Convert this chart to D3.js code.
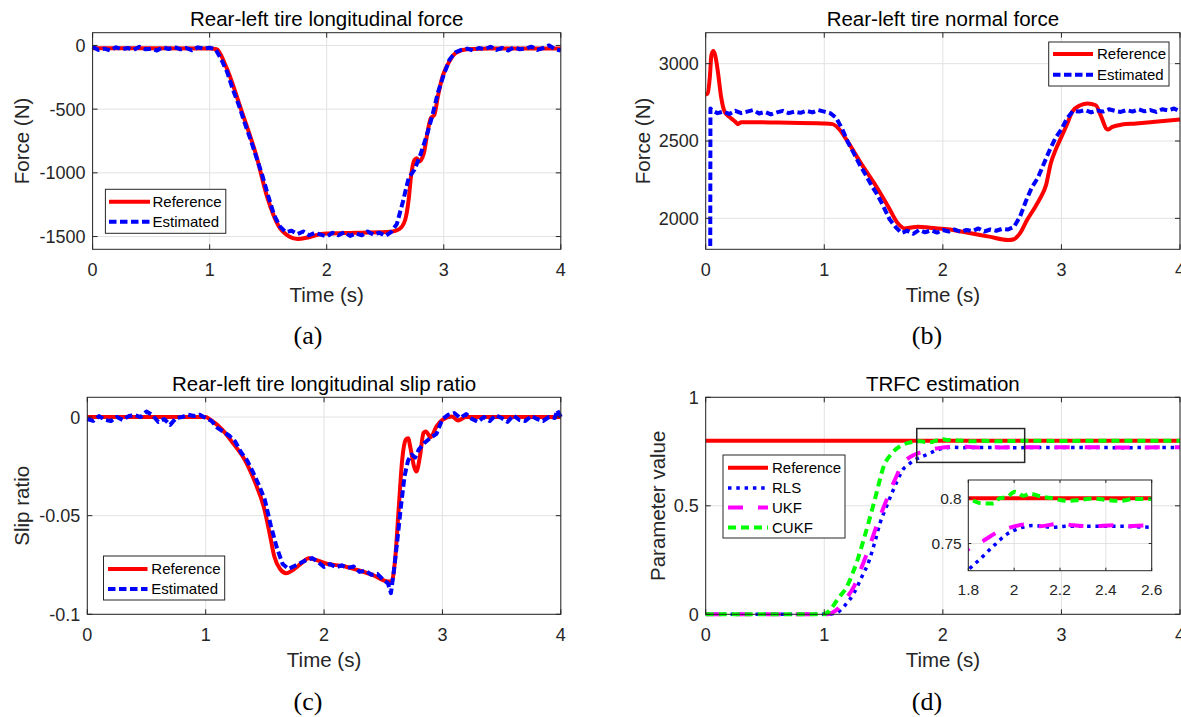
<!DOCTYPE html>
<html>
<head>
<meta charset="utf-8">
<script src="https://cdn.jsdelivr.net/npm/d3@7"></script>
<style>
  html, body { margin: 0; padding: 0; background: #ffffff; }
  svg { display: block; }
</style>
</head>
<body>
<svg id="fig" width="1181" height="717"></svg>
<script>
// ---------- shared time axis ----------
const timeTicks = [0, 1, 2, 3, 4];
const timeTickLabels = ["0", "1", "2", "3", "4"];

// ---------- (a) rear-left tire longitudinal force [t (s), N] ----------
const fxTicks = [-1500, -1000, -500, 0];
const fxTickLabels = ["-1500", "-1000", "-500", "0"];
const fxReference = [
  [0, -22], [1.0, -24], [1.06, -30], [1.14, -165], [1.27, -505], [1.40, -870], [1.49, -1185],
  [1.59, -1420], [1.68, -1500], [1.75, -1520], [1.85, -1505], [1.97, -1478], [2.26, -1470],
  [2.55, -1462], [2.62, -1442], [2.67, -1370], [2.70, -1212], [2.72, -1030], [2.75, -898],
  [2.77, -885], [2.79, -911], [2.83, -845], [2.86, -688], [2.89, -570], [2.92, -545],
  [2.95, -400], [2.99, -243], [3.04, -139], [3.10, -60], [3.20, -29], [3.40, -24], [4.0, -24]
];
const fxEstimated = [
  [0, -10], [0.05, -35], [0.1, -25], [0.15, -40], [0.2, -15], [0.25, -30], [0.3, -20], [0.35, -35],
  [0.4, -10], [0.45, -30], [0.5, -25], [0.55, -40], [0.6, -15], [0.65, -28], [0.7, -12], [0.75, -30],
  [0.8, -20], [0.85, -38], [0.9, -15], [0.95, -25], [1.0, -18], [1.05, -30], [1.1, -110], [1.15, -210],
  [1.2, -350], [1.25, -470], [1.3, -610], [1.35, -740], [1.4, -880], [1.45, -1020], [1.5, -1180],
  [1.55, -1330], [1.6, -1420], [1.65, -1465], [1.7, -1455], [1.75, -1480], [1.8, -1460], [1.85, -1490],
  [1.9, -1470], [1.95, -1485], [2.0, -1500], [2.05, -1470], [2.1, -1490], [2.15, -1465], [2.2, -1495],
  [2.25, -1475], [2.3, -1490], [2.35, -1460], [2.4, -1485], [2.45, -1470], [2.5, -1495], [2.55, -1465],
  [2.6, -1400], [2.65, -1230], [2.7, -1040], [2.75, -975], [2.8, -860], [2.85, -720], [2.9, -560],
  [2.95, -370], [3.0, -230], [3.05, -110], [3.1, -55], [3.15, -35], [3.2, -25], [3.25, -40], [3.3, -20],
  [3.35, -30], [3.4, -10], [3.45, -35], [3.5, -20], [3.55, -40], [3.6, -15], [3.65, -30], [3.7, -25],
  [3.75, -10], [3.8, -35], [3.85, -20], [3.9, 0], [3.95, -30], [4.0, -40]
];

// ---------- (b) rear-left tire normal force [t (s), N] ----------
const fzTicks = [2000, 2500, 3000];
const fzTickLabels = ["2000", "2500", "3000"];
const fzReference = [
  [0.0, 2800], [0.016, 2806], [0.035, 2914], [0.048, 3054], [0.064, 3082], [0.08, 3054],
  [0.105, 2935], [0.13, 2785], [0.16, 2688], [0.2, 2656], [0.25, 2624], [0.27, 2609], [0.3, 2622],
  [0.61, 2619], [0.995, 2613], [1.07, 2609], [1.12, 2581], [1.19, 2505], [1.31, 2355], [1.44, 2204],
  [1.54, 2075], [1.62, 1968], [1.68, 1935], [1.79, 1946], [1.89, 1940], [2.04, 1929], [2.2, 1908],
  [2.39, 1882], [2.55, 1860], [2.6, 1865], [2.65, 1903], [2.71, 1989], [2.78, 2075], [2.82, 2129],
  [2.87, 2215], [2.91, 2355], [2.95, 2441], [3.0, 2527], [3.05, 2613], [3.09, 2688], [3.16, 2731],
  [3.22, 2742], [3.29, 2731], [3.33, 2667], [3.39, 2574], [3.43, 2591], [3.51, 2606], [3.63, 2613],
  [3.79, 2624], [4.0, 2639]
];
const fzEstimated = [
  [0, 0], [0.035, 0], [0.04, 2710], [0.05, 2700], [0.1, 2680], [0.15, 2690], [0.2, 2675], [0.25, 2695],
  [0.3, 2680], [0.35, 2690], [0.4, 2700], [0.45, 2678], [0.5, 2688], [0.55, 2672], [0.6, 2685],
  [0.65, 2695], [0.7, 2680], [0.75, 2690], [0.8, 2682], [0.85, 2695], [0.9, 2685], [0.95, 2700],
  [1.0, 2690], [1.05, 2680], [1.1, 2650], [1.15, 2580], [1.2, 2490], [1.25, 2420], [1.3, 2345],
  [1.35, 2280], [1.4, 2210], [1.45, 2150], [1.5, 2075], [1.55, 1995], [1.6, 1945], [1.65, 1905],
  [1.7, 1920], [1.75, 1900], [1.8, 1925], [1.85, 1910], [1.9, 1922], [1.95, 1908], [2.0, 1925],
  [2.05, 1915], [2.1, 1928], [2.15, 1912], [2.2, 1925], [2.25, 1918], [2.3, 1935], [2.35, 1915],
  [2.4, 1928], [2.45, 1920], [2.5, 1932], [2.55, 1928], [2.6, 1945], [2.65, 2010], [2.7, 2110],
  [2.75, 2200], [2.8, 2260], [2.85, 2350], [2.9, 2440], [2.95, 2520], [3.0, 2575], [3.05, 2650],
  [3.1, 2695], [3.15, 2690], [3.2, 2700], [3.25, 2685], [3.3, 2698], [3.35, 2690], [3.4, 2705],
  [3.45, 2695], [3.5, 2688], [3.55, 2700], [3.6, 2690], [3.65, 2705], [3.7, 2692], [3.75, 2700],
  [3.8, 2688], [3.85, 2705], [3.9, 2698], [3.95, 2710], [4.0, 2690]
];

// ---------- (c) rear-left tire longitudinal slip ratio [t (s), -] ----------
const slipTicks = [-0.1, -0.05, 0];
const slipTickLabels = ["-0.1", "-0.05", "0"];
const slipReference = [
  [0, 0], [1.0, 0], [1.04, -0.0014], [1.14, -0.0064], [1.23, -0.0132], [1.33, -0.0217],
  [1.42, -0.0335], [1.49, -0.0453], [1.54, -0.0589], [1.58, -0.0707], [1.63, -0.0772],
  [1.68, -0.0792], [1.73, -0.0778], [1.81, -0.0741], [1.87, -0.0716], [1.93, -0.0724],
  [2.03, -0.0745], [2.16, -0.0755], [2.28, -0.0775], [2.41, -0.080], [2.54, -0.0834],
  [2.57, -0.0834], [2.60, -0.0724], [2.63, -0.047], [2.66, -0.0217], [2.69, -0.0115],
  [2.71, -0.0107], [2.73, -0.0157], [2.76, -0.025], [2.78, -0.0276], [2.81, -0.020],
  [2.84, -0.0081], [2.86, -0.0073], [2.90, -0.0102], [2.95, -0.0047], [3.0, -0.0014],
  [3.08, 0.0003], [3.13, -0.0017], [3.2, 0], [4.0, 0]
];
const slipEstimated = [
  [0, -0.001], [0.05, -0.002], [0.1, 0.0005], [0.15, -0.0015], [0.2, -0.002], [0.25, 0.0],
  [0.3, -0.0015], [0.35, 0.0005], [0.4, 0.001], [0.45, 0.0], [0.5, 0.0028], [0.55, 0.001],
  [0.6, -0.0025], [0.65, -0.001], [0.7, -0.004], [0.75, -0.0005], [0.8, 0.0], [0.85, 0.0012],
  [0.9, 0.0005], [0.95, 0.0012], [1.0, -0.0005], [1.05, -0.002], [1.1, -0.0055], [1.15, -0.0075],
  [1.2, -0.0095], [1.25, -0.0125], [1.3, -0.018], [1.35, -0.022], [1.4, -0.028], [1.45, -0.0345],
  [1.5, -0.042], [1.55, -0.055], [1.6, -0.066], [1.65, -0.0745], [1.7, -0.077], [1.75, -0.0755],
  [1.8, -0.074], [1.85, -0.0725], [1.9, -0.0715], [1.95, -0.0735], [2.0, -0.076], [2.05, -0.0745],
  [2.1, -0.0762], [2.15, -0.0752], [2.2, -0.0765], [2.25, -0.0758], [2.3, -0.0785], [2.35, -0.0778],
  [2.4, -0.080], [2.45, -0.0795], [2.5, -0.0825], [2.54, -0.0843], [2.565, -0.0893], [2.59, -0.078],
  [2.62, -0.062], [2.65, -0.045], [2.68, -0.030], [2.71, -0.022], [2.74, -0.019], [2.77, -0.0205],
  [2.8, -0.0165], [2.85, -0.013], [2.9, -0.0105], [2.95, -0.0085], [3.0, -0.001], [3.05, 0.0012],
  [3.1, 0.002], [3.15, -0.0005], [3.2, 0.0015], [3.25, -0.001], [3.3, -0.0025], [3.35, 0.0],
  [3.4, -0.002], [3.45, 0.001], [3.5, -0.0005], [3.55, -0.0025], [3.6, 0.0008], [3.65, -0.0015],
  [3.7, -0.002], [3.75, 0.0005], [3.8, -0.001], [3.85, -0.002], [3.9, 0.0], [3.95, -0.0005],
  [3.97, 0.0035], [4.0, 0.0]
];

// ---------- (d) tire-road friction coefficient estimates [t (s), -] ----------
const muTicks = [0, 0.5, 1];
const muTickLabels = ["0", "0.5", "1"];
const muReference = [[0, 0.8], [4, 0.8]];
const muRLS = [
  [0, 0], [1.05, 0], [1.08, 0.004], [1.12, 0.012], [1.18, 0.045], [1.25, 0.097], [1.31, 0.165],
  [1.38, 0.25], [1.43, 0.34], [1.47, 0.42], [1.52, 0.49], [1.57, 0.558], [1.62, 0.62], [1.66, 0.665],
  [1.71, 0.69], [1.76, 0.711], [1.807, 0.7226], [1.85, 0.7325], [1.909, 0.747], [1.967, 0.76],
  [2.025, 0.767], [2.08, 0.7697], [2.17, 0.768], [2.23, 0.769], [2.345, 0.769], [2.46, 0.769],
  [2.59, 0.768], [3.0, 0.769], [3.5, 0.768], [4.0, 0.769]
];
const muUKF = [
  [0, 0], [1.03, 0], [1.07, 0.008], [1.12, 0.028], [1.18, 0.07], [1.25, 0.127], [1.31, 0.21],
  [1.38, 0.31], [1.43, 0.39], [1.47, 0.45], [1.52, 0.52], [1.57, 0.588], [1.62, 0.65], [1.66, 0.696],
  [1.71, 0.72], [1.76, 0.735], [1.807, 0.745], [1.851, 0.7507], [1.924, 0.762], [1.975, 0.767],
  [2.055, 0.771], [2.113, 0.769], [2.2, 0.772], [2.258, 0.770], [2.345, 0.769], [2.433, 0.770],
  [2.49, 0.769], [2.59, 0.770], [3.0, 0.770], [3.5, 0.769], [4.0, 0.770]
];
const muCUKF = [
  [0, 0], [1.0, 0], [1.06, 0.028], [1.12, 0.075], [1.19, 0.127], [1.24, 0.19], [1.28, 0.25],
  [1.33, 0.34], [1.38, 0.435], [1.44, 0.558], [1.50, 0.68], [1.57, 0.742], [1.66, 0.78],
  [1.76, 0.796], [1.807, 0.798], [1.851, 0.7945], [1.909, 0.794], [1.938, 0.80], [1.967, 0.801],
  [2.004, 0.807], [2.04, 0.8025], [2.069, 0.805], [2.113, 0.802], [2.171, 0.7996], [2.229, 0.797],
  [2.287, 0.798], [2.345, 0.7996], [2.404, 0.798], [2.462, 0.797], [2.52, 0.799], [2.578, 0.799],
  [2.7, 0.80], [3.0, 0.799], [3.5, 0.80], [4.0, 0.80]
];
const insetTimeTicks = [1.8, 2, 2.2, 2.4, 2.6];
const insetTimeTickLabels = ["1.8", "2", "2.2", "2.4", "2.6"];
const insetMuTicks = [0.75, 0.8];
const insetMuTickLabels = ["0.75", "0.8"];

// ---------- styling ----------
const SANS = "'Liberation Sans', Arial, Helvetica, sans-serif";
const SERIF = "'Liberation Serif', 'Times New Roman', serif";
const AXIS = "#262626";
const GRID = "#e2e2e2";
const TICK_FONT = 18;
const TITLE_FONT = 20.5;
const LABEL_FONT = 20.5;
const LEGEND_FONT = 15;
const styles = {
  "Reference": { color: "#ff0000", width: 4, dash: null, smooth: true },
  "Estimated": { color: "#0000ff", width: 4, dash: "7.5,3.5", smooth: false },
  "RLS": { color: "#0000ff", width: 3.5, dash: "3.5,4.8", smooth: true },
  "UKF": { color: "#ff00ff", width: 4, dash: "15,15", smooth: true },
  "CUKF": { color: "#00ff00", width: 4, dash: "8,5", smooth: true }
};

const svg = d3.select("#fig");
const defs = svg.append("defs");

function pathFor(x, y, smooth) {
  return d3.line()
    .x(d => x(d[0]))
    .y(d => y(d[1]))
    .curve(smooth ? d3.curveMonotoneX : d3.curveLinear);
}

function drawSeries(g, x, y, list) {
  list.forEach(s => {
    const st = styles[s.name];
    g.append("path")
      .datum(s.data)
      .attr("d", pathFor(x, y, st.smooth))
      .attr("fill", "none")
      .attr("stroke", st.color)
      .attr("stroke-width", st.width)
      .attr("stroke-dasharray", st.dash)
      .attr("stroke-linejoin", "round");
  });
}

function drawGrid(g, x, y, xt, yt) {
  const [x0, x1] = x.range();
  const [y1, y0] = y.range();
  g.append("g").selectAll("line").data(xt).join("line")
    .attr("x1", d => x(d)).attr("x2", d => x(d)).attr("y1", y0).attr("y2", y1)
    .attr("stroke", GRID).attr("stroke-width", 1);
  g.append("g").selectAll("line").data(yt).join("line")
    .attr("x1", x0).attr("x2", x1).attr("y1", d => y(d)).attr("y2", d => y(d))
    .attr("stroke", GRID).attr("stroke-width", 1);
}

function drawFrame(g, x, y, o) {
  const [x0, x1] = x.range();
  const [y1, y0] = y.range();
  const tl = o.tickLen;
  const ticks = g.append("g").attr("stroke", AXIS).attr("stroke-width", 1);
  o.xTicks.forEach(t => {
    ticks.append("line").attr("x1", x(t)).attr("x2", x(t)).attr("y1", y1).attr("y2", y1 - tl);
    ticks.append("line").attr("x1", x(t)).attr("x2", x(t)).attr("y1", y0).attr("y2", y0 + tl);
  });
  o.yTicks.forEach(t => {
    ticks.append("line").attr("x1", x0).attr("x2", x0 + tl).attr("y1", y(t)).attr("y2", y(t));
    ticks.append("line").attr("x1", x1).attr("x2", x1 - tl).attr("y1", y(t)).attr("y2", y(t));
  });
  g.append("rect")
    .attr("x", x0).attr("y", y0).attr("width", x1 - x0).attr("height", y1 - y0)
    .attr("fill", "none").attr("stroke", AXIS).attr("stroke-width", 1);

  g.append("g").selectAll("text").data(o.xTicks).join("text")
    .attr("x", d => x(d)).attr("y", y1 + o.xLabelDrop)
    .attr("text-anchor", "middle")
    .attr("font-family", SANS).attr("font-size", o.fontSize).attr("fill", AXIS)
    .text((d, i) => o.xLabels[i]);
  g.append("g").selectAll("text").data(o.yTicks).join("text")
    .attr("x", x0 - o.yLabelGap).attr("y", d => y(d) + o.fontSize * 0.36)
    .attr("text-anchor", "end")
    .attr("font-family", SANS).attr("font-size", o.fontSize).attr("fill", AXIS)
    .text((d, i) => o.yLabels[i]);
}

function drawLegend(g, lg) {
  g.append("rect")
    .attr("x", lg.x0).attr("y", lg.y0).attr("width", lg.x1 - lg.x0).attr("height", lg.y1 - lg.y0)
    .attr("fill", "#ffffff").attr("stroke", AXIS).attr("stroke-width", 1);
  lg.items.forEach((name, i) => {
    const st = styles[name];
    const yy = lg.rows[i];
    g.append("line")
      .attr("x1", lg.lineX0).attr("x2", lg.lineX1).attr("y1", yy).attr("y2", yy)
      .attr("stroke", st.color).attr("stroke-width", st.width)
      .attr("stroke-dasharray", st.dash);
    g.append("text")
      .attr("x", lg.textX).attr("y", yy + LEGEND_FONT * 0.36)
      .attr("font-family", SANS).attr("font-size", LEGEND_FONT).attr("fill", "#000")
      .text(name);
  });
}

function drawPanel(p) {
  const g = svg.append("g");
  const [bx0, by0, bx1, by1] = p.box;
  const x = d3.scaleLinear().domain([0, 4]).range([bx0, bx1]);
  const y = d3.scaleLinear().domain(p.yDomain).range([by1, by0]);

  drawGrid(g, x, y, timeTicks, p.yTicks);

  const clipId = "clip-" + p.key;
  defs.append("clipPath").attr("id", clipId).append("rect")
    .attr("x", bx0 - p.pad).attr("y", by0 - p.pad)
    .attr("width", bx1 - bx0 + 2 * p.pad).attr("height", by1 - by0 + p.pad + p.padBottom);
  drawSeries(g.append("g").attr("clip-path", `url(#${clipId})`), x, y, p.series);

  drawFrame(g, x, y, {
    xTicks: timeTicks, xLabels: timeTickLabels, yTicks: p.yTicks, yLabels: p.yLabels,
    tickLen: 5, fontSize: TICK_FONT, xLabelDrop: 27, yLabelGap: 7
  });

  // title
  g.append("text")
    .attr("x", (bx0 + bx1) / 2).attr("y", by0 - 6.7)
    .attr("text-anchor", "middle")
    .attr("font-family", SANS).attr("font-size", TITLE_FONT).attr("fill", "#000")
    .text(p.title);
  // x axis label
  g.append("text")
    .attr("x", (bx0 + bx1) / 2).attr("y", by1 + 52.4)
    .attr("text-anchor", "middle")
    .attr("font-family", SANS).attr("font-size", LABEL_FONT).attr("fill", AXIS)
    .text("Time (s)");
  // y axis label
  g.append("text")
    .attr("transform", `translate(${p.yTitleX},${(by0 + by1) / 2}) rotate(-90)`)
    .attr("text-anchor", "middle")
    .attr("font-family", SANS).attr("font-size", LABEL_FONT).attr("fill", AXIS)
    .text(p.yTitle);
  // sub-figure tag
  g.append("text")
    .attr("x", p.tagX).attr("y", p.tagY)
    .attr("text-anchor", "middle")
    .attr("font-family", SERIF).attr("font-size", 26).attr("fill", "#000")
    .text(p.tag);

  if (p.legend) drawLegend(g, p.legend);
  return { g, x, y };
}

// ---------- panels ----------
drawPanel({
  key: "a", box: [92.6, 32.7, 560.8, 249.3], yDomain: [-1600, 100],
  yTicks: fxTicks, yLabels: fxTickLabels, pad: 3, padBottom: 3,
  title: "Rear-left tire longitudinal force", yTitle: "Force (N)", yTitleX: 29.3,
  tag: "(a)", tagX: 307.9, tagY: 344,
  series: [{ name: "Reference", data: fxReference }, { name: "Estimated", data: fxEstimated }],
  legend: { x0: 105.4, y0: 189.3, x1: 225.8, y1: 233.3, lineX0: 109, lineX1: 150, textX: 152.5,
            rows: [201.7, 221.7], items: ["Reference", "Estimated"] }
});

drawPanel({
  key: "b", box: [705.7, 32.7, 1180, 249.3], yDomain: [1800, 3200],
  yTicks: fzTicks, yLabels: fzTickLabels, pad: 3, padBottom: 0,
  title: "Rear-left tire normal force", yTitle: "Force (N)", yTitleX: 650,
  tag: "(b)", tagX: 927, tagY: 344,
  series: [{ name: "Reference", data: fzReference }, { name: "Estimated", data: fzEstimated }],
  legend: { x0: 1048.7, y0: 42, x1: 1169, y1: 86, lineX0: 1053, lineX1: 1093, textX: 1097,
            rows: [54, 74.7], items: ["Reference", "Estimated"] }
});

drawPanel({
  key: "c", box: [87.3, 397.3, 560.8, 614.3], yDomain: [-0.1, 0.01],
  yTicks: slipTicks, yLabels: slipTickLabels, pad: 3, padBottom: 3,
  title: "Rear-left tire longitudinal slip ratio", yTitle: "Slip ratio", yTitleX: 29.3,
  tag: "(c)", tagX: 307.9, tagY: 709.5,
  series: [{ name: "Reference", data: slipReference }, { name: "Estimated", data: slipEstimated }],
  legend: { x0: 103.5, y0: 556, x1: 224.7, y1: 600, lineX0: 108, lineX1: 147.5, textX: 151.3,
            rows: [569, 589], items: ["Reference", "Estimated"] }
});

const pd = drawPanel({
  key: "d", box: [705.7, 397.3, 1180, 614.3], yDomain: [0, 1],
  yTicks: muTicks, yLabels: muTickLabels, pad: 3, padBottom: 3,
  title: "TRFC estimation", yTitle: "Parameter value", yTitleX: 665,
  tag: "(d)", tagX: 927, tagY: 709.5,
  series: [
    { name: "Reference", data: muReference }, { name: "RLS", data: muRLS },
    { name: "UKF", data: muUKF }, { name: "CUKF", data: muCUKF }
  ],
  legend: { x0: 723, y0: 455, x1: 845, y1: 538, lineX0: 728, lineX1: 768, textX: 772,
            rows: [467.7, 488, 507.5, 527.5], items: ["Reference", "RLS", "UKF", "CUKF"] }
});

// zoom window marked on the main TRFC axes
const zoomWindow = { t0: 1.78, t1: 2.69, v0: 0.70, v1: 0.856 };
pd.g.append("rect")
  .attr("x", pd.x(zoomWindow.t0)).attr("y", pd.y(zoomWindow.v1))
  .attr("width", pd.x(zoomWindow.t1) - pd.x(zoomWindow.t0))
  .attr("height", pd.y(zoomWindow.v0) - pd.y(zoomWindow.v1))
  .attr("fill", "none").attr("stroke", AXIS).attr("stroke-width", 1.5);

// ---------- inset: magnified view of the converged estimates ----------
(function drawInset() {
  const g = svg.append("g");
  const box = [968.3, 480, 1151.7, 570.7];
  const x = d3.scaleLinear().domain([1.8, 2.6]).range([box[0], box[2]]);
  const y = d3.scaleLinear().domain([0.72, 0.82]).range([box[3], box[1]]);
  g.append("rect")
    .attr("x", box[0]).attr("y", box[1]).attr("width", box[2] - box[0]).attr("height", box[3] - box[1])
    .attr("fill", "#ffffff");
  drawGrid(g, x, y, insetTimeTicks, insetMuTicks);
  defs.append("clipPath").attr("id", "clip-inset").append("rect")
    .attr("x", box[0]).attr("y", box[1]).attr("width", box[2] - box[0]).attr("height", box[3] - box[1]);
  drawSeries(g.append("g").attr("clip-path", "url(#clip-inset)"), x, y, [
    { name: "Reference", data: muReference }, { name: "RLS", data: muRLS },
    { name: "UKF", data: muUKF }, { name: "CUKF", data: muCUKF }
  ]);
  drawFrame(g, x, y, {
    xTicks: insetTimeTicks, xLabels: insetTimeTickLabels, yTicks: insetMuTicks, yLabels: insetMuTickLabels,
    tickLen: 3, fontSize: 15.5, xLabelDrop: 24.3, yLabelGap: 6.6
  });
})();
</script>
</body>
</html>
